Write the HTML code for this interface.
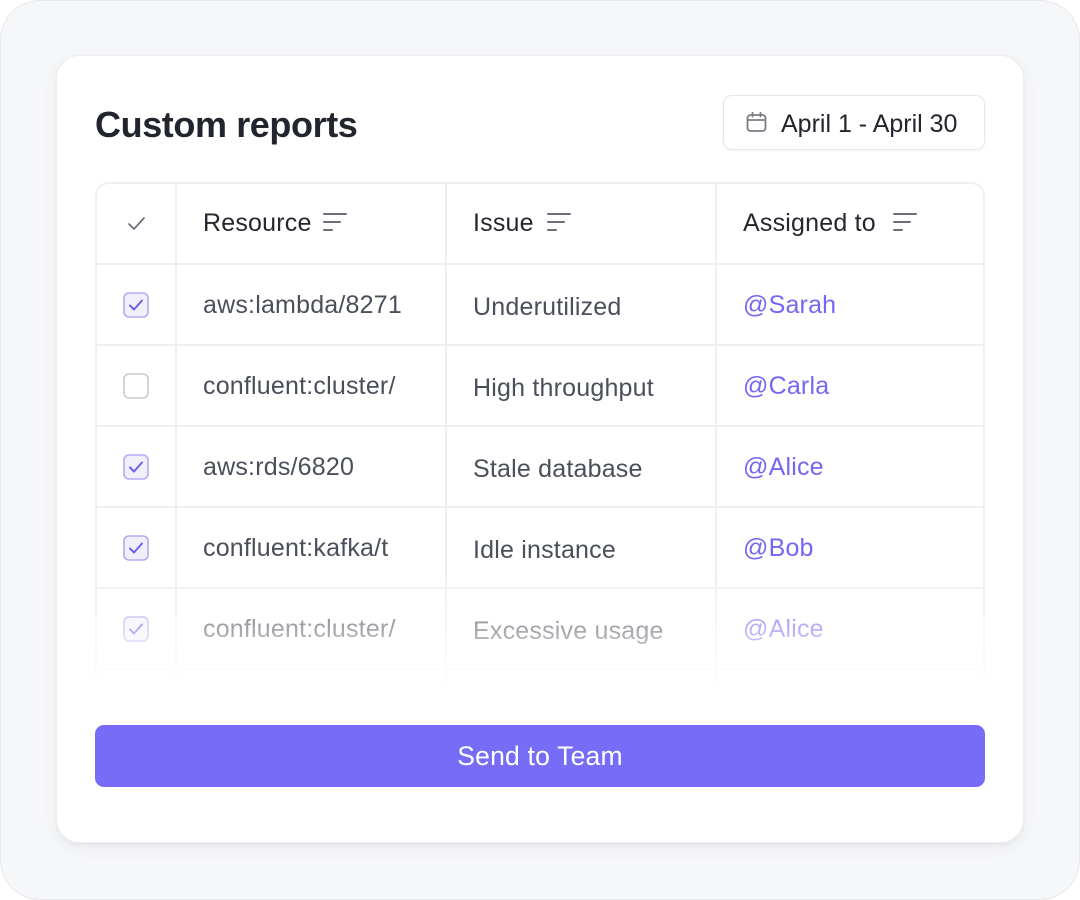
<!DOCTYPE html>
<html>
<head>
<meta charset="utf-8">
<style>
  html,body{margin:0;padding:0;}
  body{width:1080px;height:900px;position:relative;background:#ffffff;overflow:hidden;font-family:"Liberation Sans",Arial,sans-serif;}
  .frame{position:absolute;left:0;top:0;width:1078px;height:898px;border:1px solid #e7e8ec;border-radius:40px;background:#f6f7f9;}
  .card{position:absolute;left:56px;top:55px;width:968px;height:788px;border-radius:24px;background:#fff;box-shadow:0 2px 4px rgba(20,22,40,.04),0 6px 18px rgba(20,22,40,.05);border:1px solid #eceef1;box-sizing:border-box;}
  .title{position:absolute;left:95px;top:107px;font-size:36px;line-height:36px;font-weight:bold;color:#22252e;letter-spacing:-0.4px;white-space:nowrap;}
  .date{position:absolute;left:723px;top:95px;width:262px;height:55px;box-sizing:border-box;border:1.5px solid #e6e7eb;border-radius:9px;background:#fff;box-shadow:0 1px 3px rgba(0,0,0,.05);}
  .date .txt{position:absolute;left:57px;top:2px;line-height:52px;font-size:25px;color:#22252e;white-space:nowrap;}
  .date svg{position:absolute;left:22px;top:16px;}
  .tablewrap{position:absolute;left:95px;top:182px;width:890px;height:540px;
    -webkit-mask-image:linear-gradient(to bottom,#000 0,#000 395px,rgba(0,0,0,.5) 447px,rgba(0,0,0,0) 515px);
    mask-image:linear-gradient(to bottom,#000 0,#000 395px,rgba(0,0,0,.5) 447px,rgba(0,0,0,0) 515px);}
  .table{position:absolute;left:0;top:0;width:890px;height:600px;box-sizing:border-box;border:2px solid #eeeff2;border-radius:14px;background:#fff;}
  .hl{position:absolute;left:0;width:890px;height:2px;background:#eeeff2;}
  .vl{position:absolute;top:0;width:2px;height:600px;background:#eeeff2;}
  .t{position:absolute;font-size:25px;white-space:nowrap;height:81px;line-height:81px;letter-spacing:0.2px;}
  .h{color:#24272f;}
  .b{color:#4b4f5b;}
  .l{color:#7566f4;}
  .icon{position:absolute;}
  .btn{position:absolute;left:95px;top:725px;width:890px;height:62px;border-radius:9px;background:#776cf7;color:#fff;font-size:26.5px;line-height:62px;text-align:center;letter-spacing:0.2px;}
</style>
</head>
<body>
<div class="frame"></div>
<div class="card"></div>
<div class="title">Custom reports</div>
<div class="date">
  <svg width="21" height="21" viewBox="0 0 21 21">
    <rect x="1.5" y="3" width="18" height="16" rx="3" fill="none" stroke="#7a7d86" stroke-width="1.8"/>
    <line x1="1.5" y1="8" x2="19.5" y2="8" stroke="#7a7d86" stroke-width="1.8"/>
    <line x1="6.5" y1="0.5" x2="6.5" y2="4.5" stroke="#7a7d86" stroke-width="1.8" stroke-linecap="round"/>
    <line x1="14.5" y1="0.5" x2="14.5" y2="4.5" stroke="#7a7d86" stroke-width="1.8" stroke-linecap="round"/>
  </svg>
  <div class="txt">April 1 - April 30</div>
</div>

<div class="tablewrap">
  <div class="table">
    <div class="hl" style="top:79px"></div>
    <div class="hl" style="top:160px"></div>
    <div class="hl" style="top:241px"></div>
    <div class="hl" style="top:322px"></div>
    <div class="hl" style="top:403px"></div>
    <div class="hl" style="top:484px"></div>
    <div class="vl" style="left:78px"></div>
    <div class="vl" style="left:348px"></div>
    <div class="vl" style="left:618px"></div>

    <!-- header -->
    <svg class="icon" style="left:30px;top:32px" width="20" height="16" viewBox="0 0 20 16">
      <polyline points="2,8 7,13 17,2" fill="none" stroke="#6b6f7a" stroke-width="1.7" stroke-linecap="round" stroke-linejoin="round"/>
    </svg>
    <div class="t h" style="left:106px;top:-1px">Resource</div>
    <svg class="icon" style="left:226px;top:28px" width="24" height="20" viewBox="0 0 24 20">
      <line x1="1" y1="2" x2="23" y2="2" stroke="#6b6f7a" stroke-width="2" stroke-linecap="round"/>
      <line x1="1" y1="10" x2="17" y2="10" stroke="#6b6f7a" stroke-width="2" stroke-linecap="round"/>
      <line x1="1" y1="18" x2="9" y2="18" stroke="#6b6f7a" stroke-width="2" stroke-linecap="round"/>
    </svg>
    <div class="t h" style="left:376px;top:-1px">Issue</div>
    <svg class="icon" style="left:450px;top:28px" width="24" height="20" viewBox="0 0 24 20">
      <line x1="1" y1="2" x2="23" y2="2" stroke="#6b6f7a" stroke-width="2" stroke-linecap="round"/>
      <line x1="1" y1="10" x2="17" y2="10" stroke="#6b6f7a" stroke-width="2" stroke-linecap="round"/>
      <line x1="1" y1="18" x2="9" y2="18" stroke="#6b6f7a" stroke-width="2" stroke-linecap="round"/>
    </svg>
    <div class="t h" style="left:646px;top:-1px">Assigned to</div>
    <svg class="icon" style="left:796px;top:28px" width="24" height="20" viewBox="0 0 24 20">
      <line x1="1" y1="2" x2="23" y2="2" stroke="#6b6f7a" stroke-width="2" stroke-linecap="round"/>
      <line x1="1" y1="10" x2="17" y2="10" stroke="#6b6f7a" stroke-width="2" stroke-linecap="round"/>
      <line x1="1" y1="18" x2="9" y2="18" stroke="#6b6f7a" stroke-width="2" stroke-linecap="round"/>
    </svg>

    <!-- row 1 -->
    <svg class="icon" style="left:26px;top:108px" width="26" height="26" viewBox="0 0 26 26">
      <rect x="1" y="1" width="24" height="24" rx="5" fill="#f1f0fa" stroke="#b3aaf6" stroke-width="1.6"/>
      <polyline points="7,13.5 11,17.5 19,8.5" fill="none" stroke="#6d5ff0" stroke-width="2" stroke-linecap="round" stroke-linejoin="round"/>
    </svg>
    <div class="t b" style="left:106px;top:81px">aws:lambda/8271</div>
    <div class="t b" style="left:376px;top:83px">Underutilized</div>
    <div class="t l" style="left:646px;top:81px">@Sarah</div>

    <!-- row 2 -->
    <svg class="icon" style="left:26px;top:189px" width="26" height="26" viewBox="0 0 26 26">
      <rect x="1" y="1" width="24" height="24" rx="5" fill="#fff" stroke="#c9cad0" stroke-width="1.6"/>
    </svg>
    <div class="t b" style="left:106px;top:162px">confluent:cluster/</div>
    <div class="t b" style="left:376px;top:164px">High throughput</div>
    <div class="t l" style="left:646px;top:162px">@Carla</div>

    <!-- row 3 -->
    <svg class="icon" style="left:26px;top:270px" width="26" height="26" viewBox="0 0 26 26">
      <rect x="1" y="1" width="24" height="24" rx="5" fill="#f1f0fa" stroke="#b3aaf6" stroke-width="1.6"/>
      <polyline points="7,13.5 11,17.5 19,8.5" fill="none" stroke="#6d5ff0" stroke-width="2" stroke-linecap="round" stroke-linejoin="round"/>
    </svg>
    <div class="t b" style="left:106px;top:243px">aws:rds/6820</div>
    <div class="t b" style="left:376px;top:245px">Stale database</div>
    <div class="t l" style="left:646px;top:243px">@Alice</div>

    <!-- row 4 -->
    <svg class="icon" style="left:26px;top:351px" width="26" height="26" viewBox="0 0 26 26">
      <rect x="1" y="1" width="24" height="24" rx="5" fill="#f1f0fa" stroke="#b3aaf6" stroke-width="1.6"/>
      <polyline points="7,13.5 11,17.5 19,8.5" fill="none" stroke="#6d5ff0" stroke-width="2" stroke-linecap="round" stroke-linejoin="round"/>
    </svg>
    <div class="t b" style="left:106px;top:324px">confluent:kafka/t</div>
    <div class="t b" style="left:376px;top:326px">Idle instance</div>
    <div class="t l" style="left:646px;top:324px">@Bob</div>

    <!-- row 5 -->
    <svg class="icon" style="left:26px;top:432px" width="26" height="26" viewBox="0 0 26 26">
      <rect x="1" y="1" width="24" height="24" rx="5" fill="#f1f0fa" stroke="#b3aaf6" stroke-width="1.6"/>
      <polyline points="7,13.5 11,17.5 19,8.5" fill="none" stroke="#6d5ff0" stroke-width="2" stroke-linecap="round" stroke-linejoin="round"/>
    </svg>
    <div class="t b" style="left:106px;top:405px">confluent:cluster/</div>
    <div class="t b" style="left:376px;top:407px">Excessive usage</div>
    <div class="t l" style="left:646px;top:405px">@Alice</div>

    <!-- row 6 -->
    <svg class="icon" style="left:26px;top:513px" width="26" height="26" viewBox="0 0 26 26">
      <rect x="1" y="1" width="24" height="24" rx="5" fill="#fff" stroke="#c9cad0" stroke-width="1.6"/>
    </svg>
    <div class="t b" style="left:106px;top:486px">aws:ec2/44102</div>
    <div class="t b" style="left:376px;top:488px">Overprovisioned</div>
    <div class="t l" style="left:646px;top:486px">@Dan</div>
  </div>
</div>

<div class="btn">Send to Team</div>
</body>
</html>
